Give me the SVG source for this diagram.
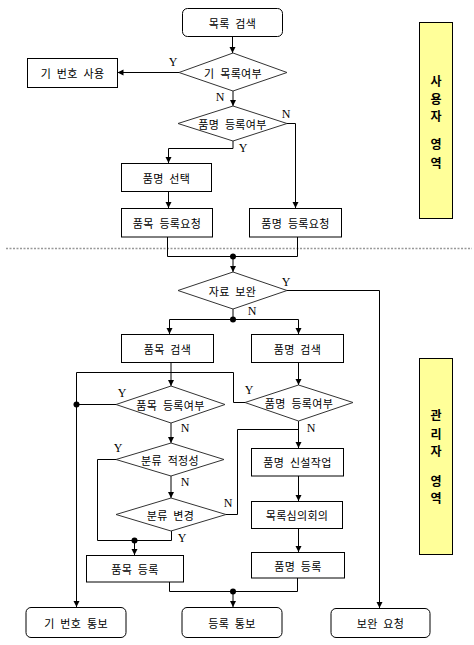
<svg xmlns="http://www.w3.org/2000/svg" width="474" height="645" viewBox="0 0 474 645">
<defs>
<marker id="arr" markerUnits="userSpaceOnUse" markerWidth="7" markerHeight="7" refX="6" refY="3" orient="auto">
<path d="M0,0 L6,3 L0,6 z" fill="#000"/>
</marker>
<style>
.box{fill:#fff;stroke:#000;stroke-width:1}
.dia{fill:#fff;stroke:#333;stroke-width:1}
.lane{fill:#ffff99;stroke:#000;stroke-width:1}
.t{font-family:"Noto Sans CJK KR","Noto Sans",sans-serif;font-size:11px;fill:#000;text-anchor:middle;dominant-baseline:central;letter-spacing:0.3px;word-spacing:3px}
.lt{font-family:"Noto Sans CJK KR","Noto Sans",sans-serif;font-size:12px;font-weight:bold;fill:#000;text-anchor:middle;dominant-baseline:central}
.yn{font-family:"Liberation Serif",serif;font-size:12px;fill:#000;text-anchor:middle;dominant-baseline:central}
.c{fill:none;stroke:#000;stroke-width:1}
.ca{fill:none;stroke:#000;stroke-width:1;marker-end:url(#arr)}
.dot{fill:#000}
</style>
</defs>
<rect width="474" height="645" fill="#fff"/>
<line x1="6" y1="248.5" x2="472" y2="248.5" stroke="#999" stroke-width="1.5" stroke-dasharray="2,1.5"/>

<g id="lane_user"><rect class="lane" x="419.5" y="22.5" width="33" height="196"/>
<text class="lt"><tspan x="436" y="80">사</tspan><tspan x="436" y="98">용</tspan><tspan x="436" y="115">자</tspan><tspan x="436" y="143">영</tspan><tspan x="436" y="162">역</tspan></text></g>
<g id="lane_admin"><rect class="lane" x="419.5" y="358.5" width="33" height="196"/>
<text class="lt"><tspan x="436" y="414">관</tspan><tspan x="436" y="433">리</tspan><tspan x="436" y="450">자</tspan><tspan x="436" y="480">영</tspan><tspan x="436" y="497">역</tspan></text></g>

<g id="connectors">
<path class="ca" d="M232.5,36.5 V53"/>
<path class="ca" d="M179,72.5 H117.5"/>
<path class="ca" d="M233,91 V106"/>
<path class="ca" d="M287,123.5 H295.5 V208"/>
<path class="ca" d="M233,141 V148.5 H168.5 V163"/>
<path class="ca" d="M168.5,192 V208"/>
<path class="c" d="M167.5,237 V256.5 H297.5 V237"/>
<path class="ca" d="M233,256.5 V272"/>
<circle class="dot" cx="233" cy="256.5" r="3"/>
<path class="ca" d="M287,290.5 H379.5 V608"/>
<path class="c" d="M233,309 V319.5"/>
<path class="ca" d="M169.5,319.5 H298.5 V334"/>
<path class="ca" d="M169.5,319.5 V334"/>
<circle class="dot" cx="233" cy="319.5" r="3"/>
<path class="ca" d="M171,362 V386"/>
<path class="ca" d="M298.5,362 V385"/>
<path class="ca" d="M245,402.5 H233.5 V372.5 H76.5 V607"/>
<path class="c" d="M116,404.5 H76.5"/>
<circle class="dot" cx="76.5" cy="404.5" r="3"/>
<path class="ca" d="M171,423 V443"/>
<path class="ca" d="M298.5,421 V448"/>
<path class="c" d="M298.5,429.5 H237.5 V514.5 H226"/>
<path class="ca" d="M171,476 V498"/>
<path class="c" d="M116,459.5 H97.5 V540.5 H171.5 V531"/>
<circle class="dot" cx="134.5" cy="540.5" r="3"/>
<path class="ca" d="M134.5,540.5 V555"/>
<path class="ca" d="M298.5,476 V501"/>
<path class="ca" d="M298.5,528 V552"/>
<path class="c" d="M169.5,582 V591.5 H297.5 V578"/>
<circle class="dot" cx="233" cy="591.5" r="3"/>
<path class="ca" d="M233,591.5 V607"/>
<text class="yn" x="173" y="62">Y</text>
<text class="yn" x="220" y="97">N</text>
<text class="yn" x="286" y="114">N</text>
<text class="yn" x="243" y="148">Y</text>
<text class="yn" x="286" y="282">Y</text>
<text class="yn" x="252" y="311">N</text>
<text class="yn" x="122" y="393">Y</text>
<text class="yn" x="249" y="390">Y</text>
<text class="yn" x="185" y="428">N</text>
<text class="yn" x="311" y="428">N</text>
<text class="yn" x="118" y="448">Y</text>
<text class="yn" x="185" y="482">N</text>
<text class="yn" x="228" y="503">N</text>
<text class="yn" x="182" y="538">Y</text>
</g>

<g id="n_start"><rect class="box" x="182.5" y="8.5" width="100" height="28" rx="5"/><text class="t" x="232.5" y="22.5">목록 검색</text></g>
<g id="d_exist"><polygon class="dia" points="179,72.5 233,53 287,72.5 233,91"/><text class="t" x="233" y="72.5">기 목록여부</text></g>
<g id="n_use"><rect class="box" x="27.5" y="58.5" width="90" height="29"/><text class="t" x="72.5" y="73">기 번호 사용</text></g>
<g id="d_name"><polygon class="dia" points="178,123.5 233,106 287,123.5 233,141"/><text class="t" x="232.5" y="123.5">품명 등록여부</text></g>
<g id="n_select"><rect class="box" x="121.5" y="163.5" width="90" height="28"/><text class="t" x="166.5" y="177.5">품명 선택</text></g>
<g id="n_reqL"><rect class="box" x="121.5" y="208.5" width="91" height="28.5"/><text class="t" x="167" y="222.5">품목 등록요청</text></g>
<g id="n_reqR"><rect class="box" x="249.5" y="208.5" width="92" height="28.5"/><text class="t" x="295.5" y="222.5">품명 등록요청</text></g>
<g id="d_supp"><polygon class="dia" points="178,290.5 233,272 287,290.5 233,309"/><text class="t" x="232.5" y="290.5">자료 보완</text></g>
<g id="n_searchL"><rect class="box" x="121.5" y="334.5" width="92" height="28"/><text class="t" x="167.5" y="348.5">품목 검색</text></g>
<g id="n_searchR"><rect class="box" x="251.5" y="334.5" width="92" height="28"/><text class="t" x="297.5" y="348.5">품명 검색</text></g>
<g id="d_item"><polygon class="dia" points="116,404.5 171,386 225,404.5 171,423"/><text class="t" x="170.5" y="404.5">품목 등록여부</text></g>
<g id="d_name2"><polygon class="dia" points="245,402.5 298.5,385 353,402.5 298.5,421"/><text class="t" x="299" y="402.5">품명 등록여부</text></g>
<g id="d_fit"><polygon class="dia" points="116,459.5 171,443 224,459.5 171,476"/><text class="t" x="170" y="459.5">분류 적정성</text></g>
<g id="d_change"><polygon class="dia" points="116,514.5 171,498 226,514.5 171,531"/><text class="t" x="170.5" y="514.5">분류 변경</text></g>
<g id="n_regL"><rect class="box" x="86.5" y="555.5" width="97" height="26.5"/><text class="t" x="135" y="568.5">품목 등록</text></g>
<g id="n_new"><rect class="box" x="251.5" y="448.5" width="92" height="27.5"/><text class="t" x="297.5" y="462">품명 신설작업</text></g>
<g id="n_review"><rect class="box" x="251.5" y="501.5" width="91" height="27"/><text class="t" x="297" y="515">목록심의회의</text></g>
<g id="n_regR"><rect class="box" x="251.5" y="552.5" width="93" height="25.5"/><text class="t" x="298" y="565.5">품명 등록</text></g>
<g id="e_exist"><rect class="box" x="26" y="607.5" width="100" height="30" rx="5"/><text class="t" x="76" y="622.5">기 번호 통보</text></g>
<g id="e_done"><rect class="box" x="182" y="607.5" width="100" height="30" rx="5"/><text class="t" x="232" y="622.5">등록 통보</text></g>
<g id="e_supp"><rect class="box" x="331" y="608.5" width="99" height="29" rx="5"/><text class="t" x="380.5" y="623">보완 요청</text></g>
</svg>
